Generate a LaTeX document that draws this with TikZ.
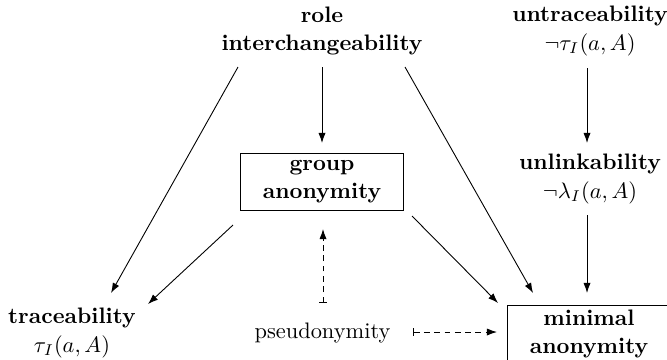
\documentclass[tikz,border=0pt]{standalone}
\usetikzlibrary{arrows.meta,calc}
\begin{document}
\begin{tikzpicture}[x=0.4465pt,y=-0.4465pt,
  lbl/.style={align=center,inner sep=0pt,font=\bfseries},
  boxed/.style={lbl,draw,minimum width=72.8pt,minimum height=25.4pt},
  arr/.style={-{Latex[length=4.5pt,width=3.2pt]}},
  darr/.style={{Bar[width=3.5pt]}-{Latex[length=4.5pt,width=3.2pt]},dash pattern=on 2.6pt off 2pt}]
\useasboundingbox (0,0) rectangle (667,359);
\clip (0,0) rectangle (667,359);
% concepts
\node[lbl] (role) at (322,31) {role\\[0.5pt]interchangeability};
\node[lbl] (untr) at (590,31) {untraceability\\[1pt]\mdseries$\neg\tau_I(a,A)$};
\node[lbl] (unlink) at (590,179) {unlinkability\\[1pt]\mdseries$\neg\lambda_I(a,A)$};
\node[boxed] (group) at (322,181.5) {group\\[0.5pt]anonymity};
\node[lbl] (trace) at (72,333) {traceability\\[1pt]\mdseries$\tau_I(a,A)$};
\node[inner sep=0pt] (pseudo) at (322.5,333) {pseudonymity};
\node[boxed] (minimal) at (589,333.5) {minimal\\[0.5pt]anonymity};
% implications
\draw[arr] ($(role)+(-84,36)$) -- ($(trace)+(39,-40)$);
\draw[arr] ($(role)+(0,36)$) -- ($(group)+(0,-38.5)$);
\draw[arr] ($(role)+(83,36)$) -- ($(minimal)+(-56,-40.5)$);
\draw[arr] ($(group)+(-89,43.5)$) -- ($(trace)+(76,-29)$);
\draw[arr] ($(group)+(90,34.5)$) -- ($(minimal)+(-91,-30.5)$);
\draw[arr] ($(untr)+(-3,37)$) -- ($(unlink)+(-3,-36)$);
\draw[arr] ($(unlink)+(-3,36)$) -- ($(minimal)+(-2,-40.5)$);
\draw[darr] ($(pseudo)+(0.5,-30)$) -- ($(group)+(1,47.5)$);
\draw[darr] ($(pseudo)+(90.5,-1)$) -- ($(minimal)+(-92,-1.5)$);
\end{tikzpicture}
\end{document}
